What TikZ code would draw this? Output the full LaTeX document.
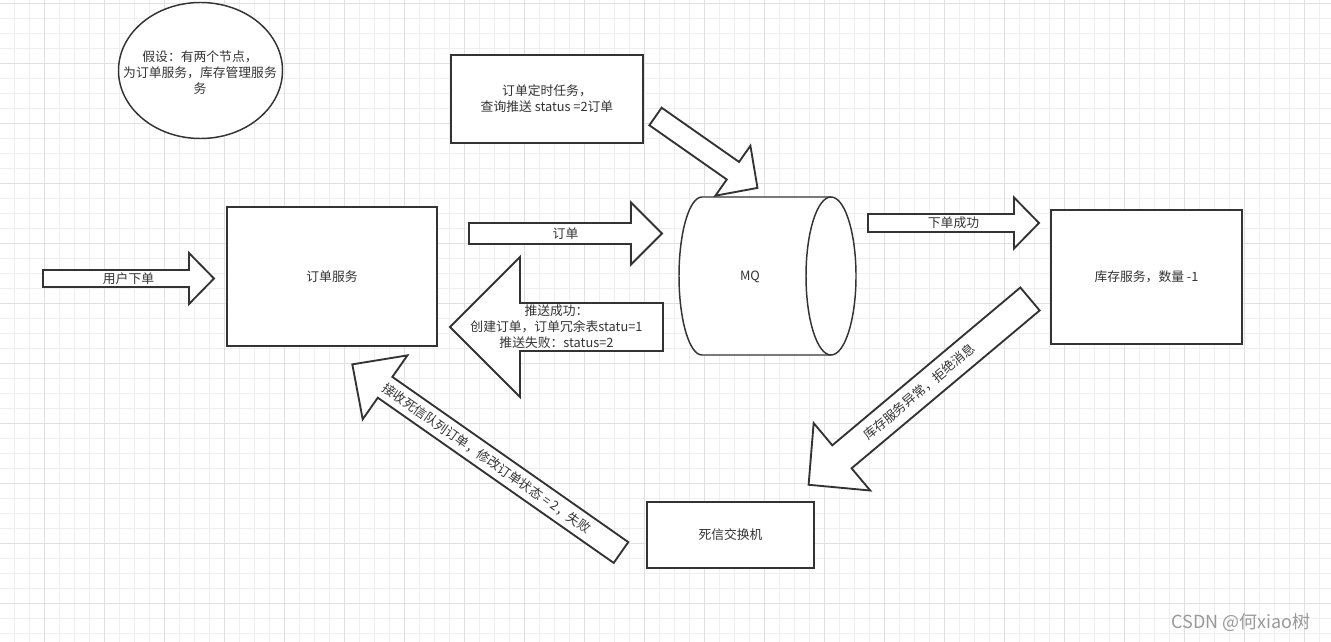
\documentclass[tikz,border=0pt]{standalone}
\usepackage{fontspec}
\setmainfont{Noto Sans CJK SC}
\usetikzlibrary{shapes.geometric}
\definecolor{ink}{HTML}{333333}
\definecolor{gridmin}{HTML}{EFEFEF}
\definecolor{gridmaj}{HTML}{E0E0E0}

\begin{document}
\begin{tikzpicture}[x=0.75pt,y=-0.75pt,
    box/.style={draw=ink,line width=1.4pt,fill=white},
    blk/.style={draw=ink,line width=1.4pt,fill=white,line join=miter},
    lbl/.style={text=ink,font=\fontsize{9.6}{12}\selectfont,align=center,inner sep=0pt}]
    \fill[white] (0,0) rectangle (1331,642);
    \useasboundingbox (0,0) rectangle (1331,642);

    % grid paper
    \foreach \x in {14.3,29.3,...,1331} \draw[gridmin,line width=0.75pt] (\x,0) -- (\x,642);
    \foreach \y in {3.3,18.3,...,642} \draw[gridmin,line width=0.75pt] (0,\y) -- (1331,\y);
    \foreach \x in {44.3,104.3,...,1331} \draw[gridmaj,line width=0.75pt] (\x,0) -- (\x,642);
    \foreach \y in {3.3,63.3,...,642} \draw[gridmaj,line width=0.75pt] (0,\y) -- (1331,\y);

    % note
    \node[ellipse,draw=ink,line width=1.1pt,fill=white,minimum width=123pt,minimum height=102pt] (hyp) at (200.5,70.5) {};
    \node[lbl] (hyptext) at (200,72.5) {假设：有两个节点，\\为订单服务，库存管理服务\\务};

    % boxes
    \node[box,lbl,minimum width=157.5pt,minimum height=104.25pt] (ordsvc) at (332,276.5) {订单服务};
    \node[box,lbl,minimum width=143.25pt,minimum height=100.5pt] (stock) at (1146.5,277) {库存服务，数量 -1};
    \node[box,lbl,minimum width=125.25pt,minimum height=49.5pt] (dlx) at (730.5,535) {死信交换机};
    \node[box,lbl,minimum width=144pt,minimum height=66pt] (job) at (547,99) {订单定时任务，\\查询推送 status =2订单};

    % queue
    \draw[ink,line width=1.1pt,fill=white] (831,197) -- (702,197)
        arc[start angle=90,end angle=270,x radius=17.25pt,y radius=59.25pt] -- (831,355);
    \draw[ink,line width=1.1pt,fill=white] (831,276) ellipse[x radius=18.75pt,y radius=59.25pt];
    \node[lbl] (mq) at (750,277) {MQ};

    % block arrows
    \foreach \nm/\tx/\ty/\ang/\len/\sw/\hw/\hl in {user/43/278.5/0/171/8.5/25.5/25,
            order/469/233.5/0/193/10.5/31/31,
            back/663/327/180/213/24/70/70,
            okay/868/223/0/171/9/25.5/25,
            timer/655.5/116.5/35/124.5/10.7/30.5/30,
            reject/1030/299/140/289/15/44/43.5,
            dead/621/552.5/215/328/12.7/39/40} {
            \begin{scope}[shift={(\tx,\ty)},rotate=-\ang]
                \draw[blk] (0,-\sw) -- ({\len-\hl},-\sw) -- ({\len-\hl},-\hw) -- (\len,0)
                    -- ({\len-\hl},\hw) -- ({\len-\hl},\sw) -- (0,\sw) -- cycle;
                \coordinate (\nm) at ({\len/2},0);
            \end{scope}
        }

    \node[lbl] (tuser) at (user) {用户下单};
    \node[lbl] (torder) at (order) {订单};
    \node[lbl] (tback) at (back) {推送成功：\\创建订单，订单冗余表statu=1\\推送失败：status=2};
    \node[lbl] (tokay) at (okay) {下单成功};
    \node[lbl,rotate=40] (treject) at (reject) {库存服务异常，拒绝消息};
    \node[lbl,rotate=-35] (tdead) at (dead) {接收死信队列订单，修改订单状态 = 2，失败};

    \node[text=black!40,font=\fontsize{13.5}{16}\selectfont,inner sep=0pt] (mark) at (1241,622) {CSDN @何xiao树};
\end{tikzpicture}
\end{document}
